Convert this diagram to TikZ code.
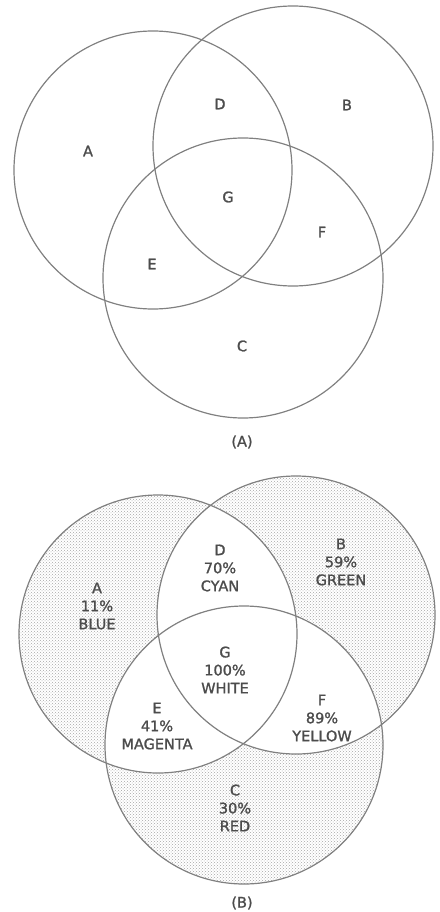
\documentclass[tikz,border=0pt]{standalone}
\usepackage{fontspec}
\setsansfont{DejaVu Sans}[FakeBold=1.3]
\usetikzlibrary{patterns}
\tikzset{
  ring/.style={draw=black!50,line width=1.2pt},
  stipple/.style={pattern=crosshatch dots,pattern color=black!35},
  region/.style={text=black!70,font=\sffamily\fontsize{14.5}{18}\selectfont,align=center,inner sep=0pt},
}

\begin{document}
\begin{tikzpicture}[x=1pt,y=-1pt]
\useasboundingbox (0,0) rectangle (439,912);
% (A) plain circles
\coordinate (ca) at (153,170);
\coordinate (cb) at (293,146);
\coordinate (cc) at (243,278);
\draw[ring] (ca) circle (139pt);
\draw[ring] (cb) circle (140pt);
\draw[ring] (cc) circle (140pt);
\node[region] (la) at (88,151) {A};
\node[region] (ld) at (220,104) {D};
\node[region] (lb) at (347,105) {B};
\node[region] (lg) at (228,197) {G};
\node[region] (lf) at (322,232) {F};
\node[region] (le) at (152,264) {E};
\node[region] (lc) at (242,346) {C};
\node[region] (capa) at (242,442) {(A)};

% (B) shaded single-colour regions
\coordinate (sa) at (158,634);
\coordinate (sb) at (296,615);
\coordinate (sc) at (244,745);
\fill[stipple] (sa) circle (139pt) (sb) circle (139pt) (sc) circle (139pt);
\begin{scope}
\clip (sa) circle (139pt);
\fill[white] (sb) circle (139pt);
\fill[white] (sc) circle (139pt);
\end{scope}
\begin{scope}
\clip (sb) circle (139pt);
\fill[white] (sc) circle (139pt);
\end{scope}
\draw[ring] (sa) circle (139pt);
\draw[ring] (sb) circle (139pt);
\draw[ring] (sc) circle (139pt);
\node[region] (blue) at (97,606) {A\\11\%\\BLUE};
\node[region] (cyan) at (220,568) {D\\70\%\\CYAN};
\node[region] (green) at (341,562) {B\\59\%\\GREEN};
\node[region] (white) at (225,670) {G\\100\%\\WHITE};
\node[region] (yellow) at (322,718) {F\\89\%\\YELLOW};
\node[region] (magenta) at (157,726) {E\\41\%\\MAGENTA};
\node[region] (red) at (235,808) {C\\30\%\\RED};
\node[region] (capb) at (242,903) {(B)};
\end{tikzpicture}
\end{document}
